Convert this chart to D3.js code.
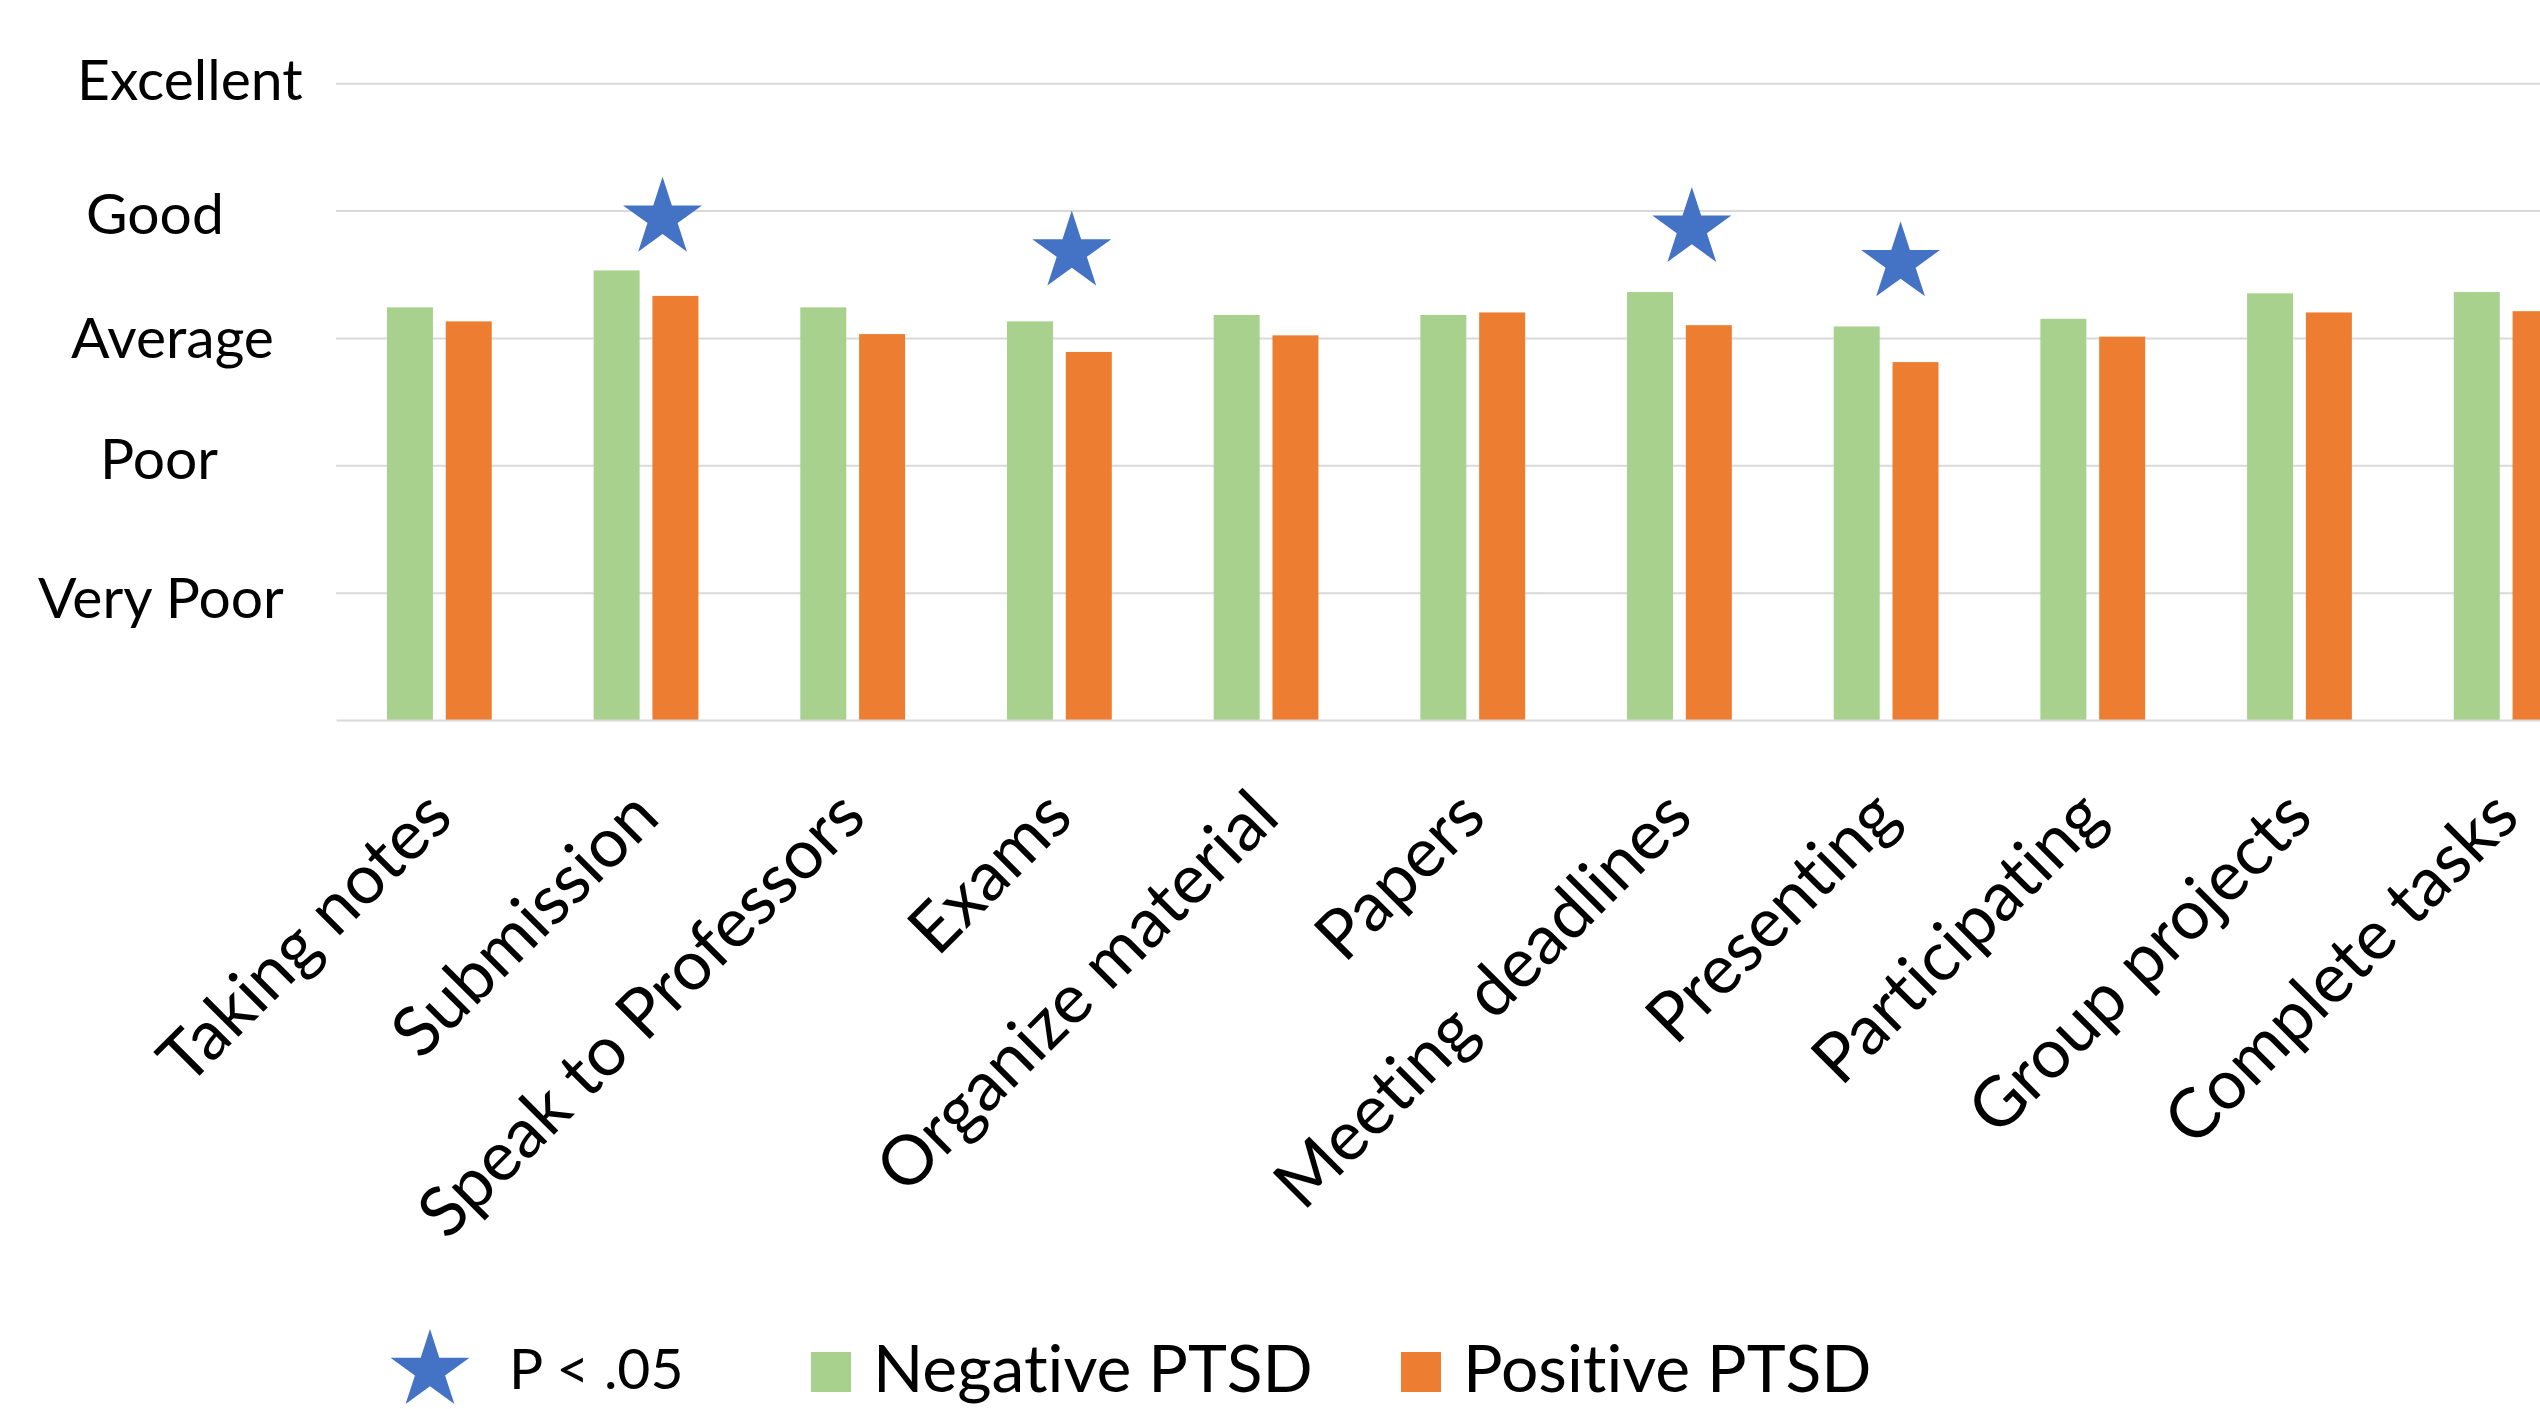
<!DOCTYPE html>
<html>
<head>
<meta charset="utf-8">
<script src="https://cdn.jsdelivr.net/npm/d3@7"></script>
<style>
  html, body { margin: 0; padding: 0; background: #fff; overflow: hidden; }
  svg { display: block; }
  text {
    font-family: Lato, "Open Sans", sans-serif;
    fill: #000;
    font-variant-ligatures: none;
    font-feature-settings: "liga" 0, "clig" 0;
  }
</style>
</head>
<body>
<svg id="chart" width="2540" height="1409"></svg>
<script>
// ---- data ----
const categories = [
  "Taking notes", "Submission", "Speak to Professors", "Exams",
  "Organize material", "Papers", "Meeting deadlines", "Presenting",
  "Participating", "Group projects", "Complete tasks"
];
const negativePTSD = [3.24, 3.53, 3.24, 3.13, 3.18, 3.18, 3.36, 3.09, 3.15, 3.35, 3.36];
const positivePTSD = [3.13, 3.33, 3.03, 2.89, 3.02, 3.20, 3.10, 2.81, 3.01, 3.20, 3.21];
const seriesNames = ["Negative PTSD", "Positive PTSD"];
const ratingTicks = [1, 2, 3, 4, 5];
const ratingLabels = ["Very Poor", "Poor", "Average", "Good", "Excellent"];
// significance markers (p < .05): x in category units, y on the rating scale
const sigX = [1.58, 3.56, 6.56, 7.57];
const sigY = [3.94, 3.675, 3.86, 3.59];
const sigLabel = "P < .05";

// ---- styling ----
const seriesColors = ["#A9D18E", "#ED7D31"];
const starColor = "#4472C4";
const gridColor = "#D9D9D9";

const svg = d3.select("#chart");
const plot = { left: 336, right: 2609.5, top: 83.2, bottom: 720 };

const x0 = d3.scaleBand()
  .domain(categories)
  .range([plot.left, plot.right])
  .paddingInner(0).paddingOuter(0);
const groupW = x0.bandwidth() * 0.507;
const x1 = d3.scaleBand()
  .domain(seriesNames)
  .range([(x0.bandwidth() - groupW) / 2, (x0.bandwidth() + groupW) / 2])
  .paddingInner(0.218);
const xs = d3.scaleLinear().domain([0, categories.length]).range([plot.left, plot.right]);
const y = d3.scaleLinear().domain([0, 5]).range([plot.bottom, plot.top]);
const color = d3.scaleOrdinal().domain(seriesNames).range(seriesColors);

// ---- horizontal gridlines + rating labels ----
const labelLeft = { 1: 38, 2: 100, 3: 71, 4: 86, 5: 77 };
const labelDrop = { 1: 25, 2: 13, 3: 20, 4: 23, 5: 16 };
const yAxis = svg.append("g")
  .attr("transform", `translate(${plot.left},0)`)
  .call(d3.axisLeft(y)
    .tickValues(ratingTicks)
    .tickSize(-(plot.right - plot.left))
    .tickFormat(v => ratingLabels[v - 1]));
yAxis.select(".domain").remove();
yAxis.selectAll(".tick line").attr("stroke", gridColor).attr("stroke-width", 2);
yAxis.selectAll(".tick text")
  .attr("text-anchor", "start")
  .attr("x", d => labelLeft[d] - plot.left)
  .attr("dy", d => labelDrop[d])
  .attr("font-size", 57)
  .attr("fill", "#000");

// ---- grouped bars ----
const rows = categories.map((c, i) => ({
  category: c,
  values: [
    { series: seriesNames[0], value: negativePTSD[i] },
    { series: seriesNames[1], value: positivePTSD[i] }
  ]
}));
svg.append("g").selectAll("g")
  .data(rows)
  .join("g")
  .attr("transform", d => `translate(${x0(d.category)},0)`)
  .selectAll("rect")
  .data(d => d.values)
  .join("rect")
  .attr("x", d => x1(d.series))
  .attr("width", x1.bandwidth())
  .attr("y", d => y(d.value))
  .attr("height", d => y(0) - y(d.value))
  .attr("fill", d => color(d.series));

// ---- category axis ----
const xAxis = svg.append("g")
  .attr("transform", `translate(0,${plot.bottom})`)
  .call(d3.axisBottom(x0).tickSize(0).tickSizeOuter(0));
xAxis.select(".domain").attr("stroke", gridColor).attr("stroke-width", 2);
xAxis.selectAll(".tick text")
  .attr("x", 0).attr("y", 0).attr("dy", 0)
  .attr("text-anchor", "end")
  .attr("transform", "translate(16,100) rotate(-45)")
  .attr("font-size", 69)
  .attr("fill", "#000");

// ---- significance stars ----
const starR = 41.5;
const starPath = d3.symbol(d3.symbolStar, starR * starR / 0.8908130915292852)();
svg.append("g").selectAll("path")
  .data(sigX.map((sx, i) => ({ x: sx, y: sigY[i] })))
  .join("path")
  .attr("d", starPath)
  .attr("transform", d => `translate(${xs(d.x)},${y(d.y)})`)
  .attr("fill", starColor);

// ---- legend ----
const legend = svg.append("g");
legend.append("path")
  .attr("d", starPath)
  .attr("transform", "translate(430,1370.5)")
  .attr("fill", starColor);
legend.append("text")
  .attr("x", 509).attr("y", 1389)
  .attr("font-size", 57)
  .text(sigLabel);
const legendItems = [
  { name: seriesNames[0], sx: 811, tx: 873 },
  { name: seriesNames[1], sx: 1401, tx: 1463 }
];
legendItems.forEach(it => {
  legend.append("rect")
    .attr("x", it.sx).attr("y", 1352)
    .attr("width", 40).attr("height", 40)
    .attr("fill", color(it.name));
  legend.append("text")
    .attr("x", it.tx).attr("y", 1392)
    .attr("font-size", 66)
    .text(it.name);
});
</script>
</body>
</html>
